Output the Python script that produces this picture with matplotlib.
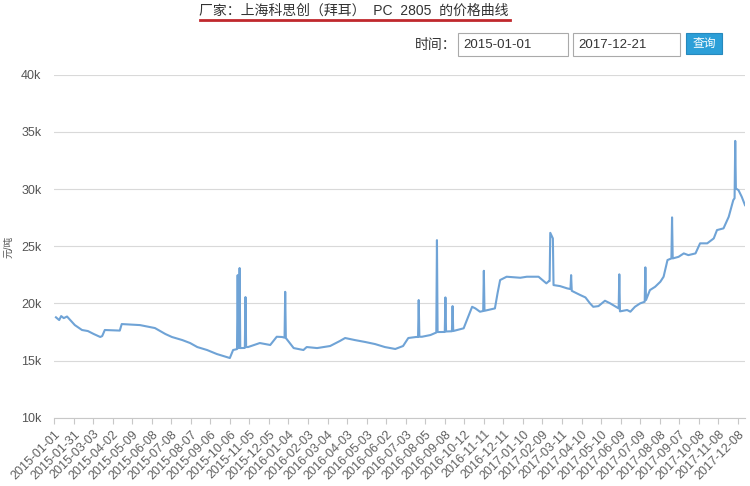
import matplotlib
matplotlib.use('Agg')
import matplotlib.pyplot as plt
from matplotlib.patches import Rectangle
from matplotlib.lines import Line2D

plt.rcParams['font.family'] = ['Liberation Sans', 'Noto Sans CJK SC', 'DejaVu Sans']

# 数据点序号 (类别轴) 和价格 (元/吨)
idx = [3, 8, 11, 15, 20, 32, 43, 52, 61, 71, 74, 78, 101, 104, 132, 155, 171, 181,
       197, 209, 220, 235, 250, 270, 275, 281, 282, 283, 284, 285, 286, 293, 294,
       295, 298, 316, 332, 342, 350, 354, 355, 356, 368, 383, 388, 404, 424, 439,
       447, 462, 478, 493, 508, 524, 536, 544, 556, 559, 560, 561, 565, 578, 587,
       588, 589, 600, 601, 602, 611, 612, 613, 629, 634, 638, 642, 647, 654, 659,
       660, 661, 677, 681, 685, 695, 716, 726, 744, 752, 756, 760, 761, 762, 766,
       767, 777, 788, 793, 794, 795, 798, 808, 816, 823, 828, 836, 846, 854, 867,
       868, 869, 880, 885, 892, 900, 907, 908, 909, 915, 923, 931, 936, 942, 948,
       949, 950, 959, 967, 974, 985, 992, 1003, 1013, 1018, 1028, 1036, 1043,
       1045, 1046, 1047, 1051, 1056, 1061]
price = [18780, 18540, 18890, 18710, 18850, 18100, 17670, 17580, 17320, 17060,
         17140, 17670, 17620, 18190, 18100, 17840, 17320, 17060, 16790, 16530,
         16180, 15920, 15570, 15220, 15920, 16000, 22470, 16090, 16090, 23090,
         16090, 16100, 20550, 16180, 16180, 16530, 16360, 17080, 17060, 17000,
         21010, 16970, 16090, 15920, 16180, 16090, 16270, 16710, 16970, 16790,
         16620, 16440, 16180, 16010, 16270, 16970, 17060, 17060, 20290, 17080,
         17080, 17230, 17450, 25530, 17490, 17500, 20520, 17540, 17560, 19760,
         17580, 17820, 18540, 19130, 19700, 19560, 19270, 19330, 22850, 19350,
         19560, 20870, 22040, 22330, 22240, 22330, 22330, 21950, 21750, 21950,
         21950, 26170, 25680, 21600, 21510, 21310, 21250, 22470, 21100, 21010,
         20730, 20520, 20000, 19700, 19760, 20230, 20000, 19560, 22540, 19300,
         19420, 19270, 19700, 20000, 20140, 23150, 20290, 21160, 21450, 21890,
         22330, 23790, 23930, 27520, 23930, 24070, 24370, 24220, 24370, 25250,
         25250, 25680, 26410, 26560, 27570, 29030, 29200, 34210, 30050, 29900,
         29320, 28590]

tick_dates = ['2015-01-01', '2015-01-31', '2015-03-03', '2015-04-02', '2015-05-09',
              '2015-06-08', '2015-07-08', '2015-08-07', '2015-09-06', '2015-10-06',
              '2015-11-05', '2015-12-05', '2016-01-04', '2016-02-03', '2016-03-04',
              '2016-04-03', '2016-05-03', '2016-06-02', '2016-07-03', '2016-08-05',
              '2016-09-08', '2016-10-12', '2016-11-11', '2016-12-11', '2017-01-10',
              '2017-02-09', '2017-03-11', '2017-04-10', '2017-05-10', '2017-06-09',
              '2017-07-09', '2017-08-08', '2017-09-07', '2017-10-08', '2017-11-08',
              '2017-12-08']
tick_step = 30
y_ticks = [10000, 15000, 20000, 25000, 30000, 35000, 40000]

W, H = 750, 486
fig = plt.figure(figsize=(7.5, 4.86), dpi=100)


def fx(px):
    return px / W


def fy(py):
    return 1 - py / H


ax = fig.add_axes([fx(54), fy(417.7), fx(691), (417.7 - 74.7) / H])
ax.plot(idx, price, color='#6fa3d6', lw=1.5, zorder=3)
ax.set_xlim(0, 1061)
ax.set_ylim(10000, 40000)

ax.set_yticks(y_ticks)
ax.set_yticklabels(['%dk' % (v // 1000) for v in y_ticks])
ax.yaxis.grid(True, color='#d9d9d9', lw=0.8)
ax.set_axisbelow(True)

ax.set_xticks([i * tick_step for i in range(len(tick_dates))])
ax.set_xticklabels(tick_dates, rotation=45, ha='right', rotation_mode='anchor')

for s in ['top', 'right', 'left']:
    ax.spines[s].set_visible(False)
ax.spines['bottom'].set_color('#c8c8c8')
ax.spines['bottom'].set_linewidth(0.8)
ax.tick_params(axis='y', length=0, pad=9, labelsize=9, labelcolor='#555555')
ax.tick_params(axis='x', length=4.5, width=0.8, color='#c8c8c8', pad=3,
               labelsize=9, labelcolor='#606060')

fig.text(fx(8), fy(247), '元/吨', rotation=90, ha='center', va='center',
         fontsize=7, color='#555555')

# 标题 + 下划线
fig.text(fx(354), fy(11), '厂家：上海科思创（拜耳）  PC  2805  的价格曲线',
         ha='center', va='center', fontsize=10, color='#333333')
fig.add_artist(Line2D([fx(200), fx(510)], [fy(20), fy(20)], color='#c0282d',
                      lw=2, transform=fig.transFigure))

# 时间选择
fig.text(fx(415), fy(45), '时间：', ha='left', va='center', fontsize=10, color='#333333')
for x0, x1, txt in [(458, 568, '2015-01-01'), (573, 680, '2017-12-21')]:
    fig.add_artist(Rectangle((fx(x0), fy(56)), fx(x1 - x0), (56 - 33) / H,
                             transform=fig.transFigure, facecolor='white',
                             edgecolor='#aaaaaa', lw=0.8))
    fig.text(fx(x0 + 5), fy(45), txt, ha='left', va='center', fontsize=9.5,
             color='#333333')
fig.add_artist(Rectangle((fx(686), fy(54)), fx(36), (54 - 33) / H,
                         transform=fig.transFigure, facecolor='#2c9fd8',
                         edgecolor='#2789bd', lw=0.8))
fig.text(fx(704), fy(43.5), '查询', ha='center', va='center', fontsize=8.5,
         color='white')

fig.savefig('out.png', dpi=100)
